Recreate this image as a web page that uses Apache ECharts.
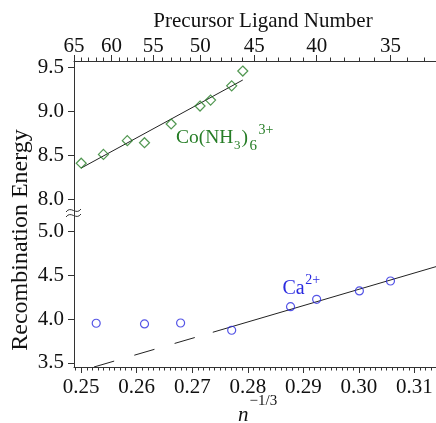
<!DOCTYPE html>
<html>
<head>
    <meta charset="UTF-8">
    <title>Recombination Energy</title>
    <script src="https://cdn.jsdelivr.net/npm/echarts@6/dist/echarts.min.js"></script>
</head>
<body style="margin:0">
<div id="main" style="width: 436px;height:423px;"></div>
<script type="text/javascript">
    // Co(NH3)6 3+ points (x = n^-1/3)
    var coX = [0.2500, 0.2540, 0.2583, 0.2614, 0.2662, 0.2714, 0.2733, 0.2771, 0.2791];
    var coY = [8.41, 8.51, 8.666, 8.643, 8.856, 9.06, 9.128, 9.29, 9.458];
    // Ca2+ points
    var caX = [0.2527, 0.2614, 0.2679, 0.2771, 0.2877, 0.2924, 0.3001, 0.3057];
    var caY = [3.954, 3.946, 3.957, 3.874, 4.143, 4.228, 4.323, 4.437];
    // fit lines
    var coFitX = [0.2500, 0.2791];
    var coFitY = [8.355, 9.356];
    var caDashX = [0.2523, 0.2737];
    var caDashY = [3.454, 3.851];
    var caFitX = [0.2737, 0.3139];
    var caFitY = [3.851, 4.601];
    // ticks
    var ligandTicks = [65, 60, 55, 50, 45, 40, 35];
    var xTicks = [0.25, 0.26, 0.27, 0.28, 0.29, 0.30, 0.31];
    var yTicksTop = [8.0, 8.5, 9.0, 9.5];
    var yTicksBottom = [3.5, 4.0, 4.5, 5.0];

    var green = '#267d26';
    var blue = '#2b2be0';
    var axisColor = '#333';
    var font = 'Liberation Serif';
    var xMin = 0.2487, xMax = 0.3139;

    function pairs(xs, ys) {
        return xs.map(function (x, i) { return [x, ys[i]]; });
    }

    // top axis tick positions
    var ligandMajor = ligandTicks.map(function (n) { return Math.pow(n, -1 / 3); });
    var ligandMinor = [];
    for (var n = 33; n <= 65; n++) {
        if (n % 5 !== 0) ligandMinor.push(Math.pow(n, -1 / 3));
    }
    var xMinor = [];
    for (var k = 249; k <= 313; k++) {
        if (k % 10 !== 0) xMinor.push(k / 1000);
    }
    var yMinorTop = [7.9, 8.1, 8.2, 8.3, 8.4, 8.6, 8.7, 8.8, 8.9, 9.1, 9.2, 9.3, 9.4];
    var yMinorBottom = [3.6, 3.7, 3.8, 3.9, 4.1, 4.2, 4.3, 4.4, 4.6, 4.7, 4.8, 4.9, 5.1];

    function xAx(grid, pos, major, isMinor, fmt) {
        return {
            type: 'value', gridIndex: grid, position: pos, min: xMin, max: xMax,
            axisLine: {show: !isMinor, lineStyle: {color: axisColor, width: 1}},
            axisTick: {show: true, customValues: major, length: isMinor ? 3.5 : 6,
                lineStyle: {color: axisColor, width: 1}},
            axisLabel: {show: !isMinor, customValues: major, formatter: fmt,
                fontFamily: font, fontSize: 21, color: '#111', margin: pos === 'top' ? 4 : 10},
            splitLine: {show: false}
        };
    }

    function yAx(grid, lo, hi, major, isMinor) {
        return {
            type: 'value', gridIndex: grid, min: lo, max: hi,
            axisLine: {show: !isMinor, lineStyle: {color: axisColor, width: 1}},
            axisTick: {show: true, customValues: major, length: isMinor ? 3.5 : 6,
                lineStyle: {color: axisColor, width: 1}},
            axisLabel: {show: !isMinor, customValues: major,
                formatter: function (v) { return v.toFixed(1); },
                fontFamily: font, fontSize: 21, color: '#111', margin: 10},
            splitLine: {show: false}
        };
    }

    // lay out pieces of text (sub/superscripts) one after another
    var ctx = document.createElement('canvas').getContext('2d');
    function chain(x, baseline, color, pieces) {
        var out = [];
        pieces.forEach(function (p) {
            var f = (p[3] || '') + ' ' + p[1] + 'px "' + font + '"';
            ctx.font = f;
            out.push({type: 'text', z: 100, style: {text: p[0], x: x, y: baseline + p[2] - 0.3 * p[1],
                fill: color, font: f, textAlign: 'left', textVerticalAlign: 'middle'}});
            x += ctx.measureText(p[0]).width + (p[4] || 0);
        });
        return out;
    }

    var myChart = echarts.init(document.getElementById('main'));

    var graphics = [
        {
            type: 'text', z: 100,
            style: {text: 'Precursor Ligand Number', x: 263, y: 21.7, fill: '#111',
                font: '21px "' + font + '"', textAlign: 'center', textVerticalAlign: 'middle'}
        },
        {
            type: 'text', z: 100, x: 21, y: 240, rotation: Math.PI / 2,
            style: {text: 'Recombination Energy', x: 0, y: 0, fill: '#111',
                font: '24px "' + font + '"', textAlign: 'center', textVerticalAlign: 'middle'}
        },
        // axis break marks
        {
            type: 'bezierCurve', z: 100,
            shape: {x1: 66, y1: 212, cpx1: 71, cpy1: 205, cpx2: 76, cpy2: 216, x2: 81, y2: 209},
            style: {stroke: axisColor, fill: null, lineWidth: 1}
        },
        {
            type: 'bezierCurve', z: 100,
            shape: {x1: 66, y1: 217, cpx1: 71, cpy1: 210, cpx2: 76, cpy2: 221, x2: 81, y2: 214},
            style: {stroke: axisColor, fill: null, lineWidth: 1}
        }
    ].concat(
        chain(238, 421.5, '#111', [['n', 21, 0, 'italic', 1], ['\u22121/3', 15, -16]]),
        chain(176, 143.3, green, [['Co(NH', 19.5, 0, '', 0.5], ['3', 13, 6.5, '', 1], [')', 19.5, 0, '', 1.5],
            ['6', 15, 7, '', 1.5], ['3+', 14, -8.5]]),
        chain(282.5, 294.3, blue, [['Ca', 20, 0, '', 0.5], ['2+', 14, -9.5]])
    );

    var option = {
        animation: false,
        grid: [
            {left: 74, right: 0, top: 61, height: 152},
            {left: 74, right: 0, top: 213, height: 154}
        ],
        xAxis: [
            xAx(0, 'top', ligandMajor, false, function (v) { return String(Math.round(Math.pow(v, -3))); }),
            xAx(0, 'top', ligandMinor, true),
            xAx(1, 'bottom', xTicks, false, function (v) { return v.toFixed(2); }),
            xAx(1, 'bottom', xMinor, true)
        ],
        yAxis: [
            yAx(0, 7.844, 9.572, yTicksTop, false),
            yAx(0, 7.844, 9.572, yMinorTop, true),
            yAx(1, 3.454, 5.214, yTicksBottom, false),
            yAx(1, 3.454, 5.214, yMinorBottom, true)
        ],
        series: [
            {
                type: 'line', xAxisIndex: 0, yAxisIndex: 0, data: pairs(coFitX, coFitY),
                showSymbol: false, silent: true, lineStyle: {color: '#222', width: 1}, z: 1
            },
            {
                type: 'scatter', xAxisIndex: 0, yAxisIndex: 0, data: pairs(coX, coY),
                symbol: 'diamond', symbolSize: 10,
                itemStyle: {color: 'rgba(0,0,0,0)', borderColor: green, borderWidth: 1.2}, z: 2
            },
            {
                type: 'line', xAxisIndex: 2, yAxisIndex: 2, data: pairs(caDashX, caDashY),
                showSymbol: false, silent: true,
                lineStyle: {color: '#222', width: 1, type: [21, 21]}, z: 1
            },
            {
                type: 'line', xAxisIndex: 2, yAxisIndex: 2, data: pairs(caFitX, caFitY),
                showSymbol: false, silent: true, lineStyle: {color: '#222', width: 1}, z: 1
            },
            {
                type: 'scatter', xAxisIndex: 2, yAxisIndex: 2, data: pairs(caX, caY),
                symbol: 'circle', symbolSize: 8,
                itemStyle: {color: 'rgba(0,0,0,0)', borderColor: blue, borderWidth: 1.2}, z: 2
            }
        ],
        graphic: graphics
    };

    myChart.setOption(option);
</script>
</body>
</html>
